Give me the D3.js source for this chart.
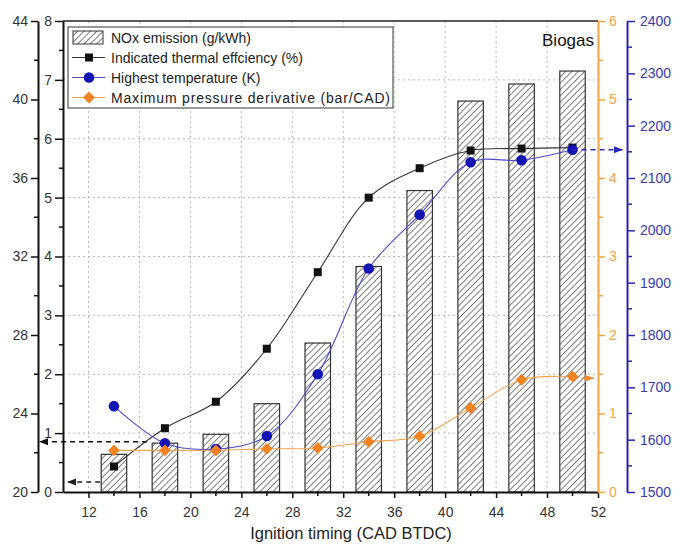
<!DOCTYPE html>
<html>
<head>
<meta charset="utf-8">
<script src="https://cdn.jsdelivr.net/npm/d3@7"></script>
<style>
    body { margin: 0; background: #fff; }
    svg { font-family: "Liberation Sans", Arial, sans-serif; }
</style>
</head>
<body>
<div id="chart"></div>
<script>
// ignition timing (CAD BTDC)
const timing = [14, 18, 22, 26, 30, 34, 38, 42, 46, 50];
// NOx emission (g/kWh) - bars, inner left axis
const nox = [0.64, 0.83, 0.98, 1.5, 2.53, 3.83, 5.12, 6.64, 6.93, 7.15];
// indicated thermal efficiency (%) - outer left axis
const efficiency = [21.3, 23.25, 24.6, 27.3, 31.2, 35.0, 36.5, 37.4, 37.5, 37.55];
// highest temperature (K) - blue right axis
const temperature = [1664, 1593, 1582, 1607, 1725, 1927, 2030, 2130, 2134, 2154];
// maximum pressure derivative (bar/CAD) - orange right axis
const pressure = [0.53, 0.53, 0.53, 0.55, 0.56, 0.64, 0.71, 1.07, 1.43, 1.47];

const xTicks = [12, 16, 20, 24, 28, 32, 36, 40, 44, 48, 52];
const effTicks = [20, 24, 28, 32, 36, 40, 44];
const noxTicks = [0, 1, 2, 3, 4, 5, 6, 7, 8];
const pressTicks = [0, 1, 2, 3, 4, 5, 6];
const tempTicks = [1500, 1600, 1700, 1800, 1900, 2000, 2100, 2200, 2300, 2400];

const legendItems = [
    "NOx emission (g/kWh)",
    "Indicated thermal effciency (%)",
    "Highest temperature (K)",
    "Maximum pressure derivative (bar/CAD)"
];

const W = 700, H = 544;
const plotL = 63, plotR = 598, plotT = 21, plotB = 492;
const outerX = 38, blueX = 627;
const fmt = d3.format("d");

const svg = d3.select("#chart").append("svg")
    .attr("width", W)
    .attr("height", H);

svg.append("rect").attr("width", W).attr("height", H).attr("fill", "#fff");

// hatch pattern for bars
const defs = svg.append("defs");
const pat = defs.append("pattern")
    .attr("id", "hatch")
    .attr("patternUnits", "userSpaceOnUse")
    .attr("width", 4.5).attr("height", 4.5)
    .attr("patternTransform", "rotate(45)");
pat.append("rect").attr("width", 4.5).attr("height", 4.5).attr("fill", "#fff");
pat.append("line")
    .attr("x1", 0).attr("y1", 0).attr("x2", 0).attr("y2", 4.5)
    .attr("stroke", "#3a3a3a").attr("stroke-width", 1.3);

// scales
const x = d3.scaleLinear().domain([10, 52]).range([plotL, plotR]);
const yNox = d3.scaleLinear().domain([0, 8]).range([plotB, plotT]);
const yEff = d3.scaleLinear().domain([20, 44]).range([plotB, plotT]);
const yPress = d3.scaleLinear().domain([0, 6]).range([plotB, plotT]);
const yTemp = d3.scaleLinear().domain([1500, 2400]).range([plotB, plotT]);

// grid lines
const grid = svg.append("g").attr("stroke", "#b5b5b5").attr("stroke-dasharray", "2,3");
grid.selectAll(".gx")
    .data(xTicks.slice(0, -1))
    .enter().append("line")
    .attr("x1", d => x(d)).attr("x2", d => x(d))
    .attr("y1", plotT).attr("y2", plotB);
grid.selectAll(".gy")
    .data(noxTicks.slice(1, -1))
    .enter().append("line")
    .attr("x1", plotL).attr("x2", plotR)
    .attr("y1", d => yNox(d)).attr("y2", d => yNox(d));

// bars
const barW = x(2) - x(0);
svg.selectAll(".bar")
    .data(timing)
    .enter().append("rect")
    .attr("class", "bar")
    .attr("x", d => x(d) - barW / 2)
    .attr("y", (d, i) => yNox(nox[i]))
    .attr("width", barW)
    .attr("height", (d, i) => plotB - yNox(nox[i]))
    .attr("fill", "url(#hatch)")
    .attr("stroke", "#333")
    .attr("stroke-width", 1.2);

// lines
function drawLine(values, yScale, color) {
    const line = d3.line()
        .x((d, i) => x(timing[i]))
        .y(d => yScale(d))
        .curve(d3.curveCatmullRom.alpha(0.5));
    svg.append("path")
        .datum(values)
        .attr("fill", "none")
        .attr("stroke", color)
        .attr("stroke-width", 1.1)
        .attr("d", line);
}
drawLine(efficiency, yEff, "#333");
drawLine(temperature, yTemp, "#4a4ac8");
drawLine(pressure, yPress, "#f3a24c");

// markers
svg.selectAll(".sq")
    .data(efficiency)
    .enter().append("rect")
    .attr("x", (d, i) => x(timing[i]) - 4)
    .attr("y", d => yEff(d) - 4)
    .attr("width", 8).attr("height", 8)
    .attr("fill", "#111");
svg.selectAll(".ci")
    .data(temperature)
    .enter().append("circle")
    .attr("cx", (d, i) => x(timing[i]))
    .attr("cy", d => yTemp(d))
    .attr("r", 5.3)
    .attr("fill", "#1414b4");
const diamond = d3.symbol().type(d3.symbolDiamond2).size(90);
svg.selectAll(".di")
    .data(pressure)
    .enter().append("path")
    .attr("transform", (d, i) => `translate(${x(timing[i])},${yPress(d)})`)
    .attr("d", diamond)
    .attr("fill", "#f5831f");

// dashed arrows pointing to the axes
function arrow(x1, x2, y, color) {
    svg.append("line")
        .attr("x1", x1).attr("x2", x2)
        .attr("y1", y).attr("y2", y)
        .attr("stroke", color)
        .attr("stroke-width", 1.6)
        .attr("stroke-dasharray", "5,4");
    const dir = x2 > x1 ? 1 : -1;
    svg.append("path")
        .attr("d", `M${x2},${y} L${x2 - dir * 9},${y - 3.5} L${x2 - dir * 9},${y + 3.5} Z`)
        .attr("fill", color);
}
arrow(x(16.6), outerX + 1, yEff(22.56), "#111");
arrow(x(13) - 1, plotL + 4, yNox(0.17), "#222");
arrow(x(50), blueX - 4, yTemp(temperature[9]), "#2a2ac0");
arrow(x(50), plotR - 4, yPress(1.45), "#f08a2a");

// axes
function styleAxis(g, color, width) {
    g.select(".domain").attr("stroke", color).attr("stroke-width", width);
    g.selectAll(".tick line").attr("stroke", color).attr("stroke-width", 1.5);
    g.selectAll(".tick text").attr("fill", color === "#111" ? "#333" : color)
        .attr("font-size", 14)
        .attr("font-family", "Liberation Sans, Arial, sans-serif");
}

// top border
svg.append("line")
    .attr("x1", plotL).attr("x2", plotR)
    .attr("y1", plotT).attr("y2", plotT)
    .attr("stroke", "#222").attr("stroke-width", 1.5);

const gx = svg.append("g")
    .attr("transform", `translate(0,${plotB})`)
    .call(d3.axisBottom(x).tickValues(xTicks).tickFormat(fmt).tickSize(6).tickSizeOuter(0).tickPadding(9));
styleAxis(gx, "#111", 2);
gx.selectAll(".mt").data(xTicks.slice(0, -1).map(d => d + 2)).enter().append("line")
    .attr("x1", d => x(d)).attr("x2", d => x(d)).attr("y1", 0).attr("y2", 4)
    .attr("stroke", "#111").attr("stroke-width", 1.5);

const gNox = svg.append("g")
    .attr("transform", `translate(${plotL},0)`)
    .call(d3.axisLeft(yNox).tickValues(noxTicks).tickFormat(fmt).tickSize(8).tickSizeOuter(0).tickPadding(3));
styleAxis(gNox, "#111", 2);
gNox.selectAll(".mt").data(noxTicks.slice(0, -1).map(d => d + 0.5)).enter().append("line")
    .attr("x1", 0).attr("x2", -4).attr("y1", d => yNox(d)).attr("y2", d => yNox(d))
    .attr("stroke", "#111").attr("stroke-width", 1.5);

const gEff = svg.append("g")
    .attr("transform", `translate(${outerX},0)`)
    .call(d3.axisLeft(yEff).tickValues(effTicks).tickFormat(fmt).tickSize(7).tickSizeOuter(0).tickPadding(3));
styleAxis(gEff, "#111", 2);
gEff.selectAll(".mt").data(effTicks.slice(0, -1).map(d => d + 2)).enter().append("line")
    .attr("x1", 0).attr("x2", -4).attr("y1", d => yEff(d)).attr("y2", d => yEff(d))
    .attr("stroke", "#111").attr("stroke-width", 1.5);

const gPress = svg.append("g")
    .attr("transform", `translate(${plotR},0)`)
    .call(d3.axisRight(yPress).tickValues(pressTicks).tickFormat(fmt).tickSize(7).tickSizeOuter(0).tickPadding(4));
styleAxis(gPress, "#f2a343", 2);
gPress.selectAll(".mt").data(pressTicks.slice(0, -1).map(d => d + 0.5)).enter().append("line")
    .attr("x1", 0).attr("x2", 5).attr("y1", d => yPress(d)).attr("y2", d => yPress(d))
    .attr("stroke", "#f2a343").attr("stroke-width", 1.5);

const gTemp = svg.append("g")
    .attr("transform", `translate(${blueX},0)`)
    .call(d3.axisRight(yTemp).tickValues(tempTicks).tickFormat(fmt).tickSize(8).tickSizeOuter(0).tickPadding(5));
styleAxis(gTemp, "#2626ac", 2);
gTemp.selectAll(".tick text").attr("fill", "#3b3ba6");
gTemp.selectAll(".mt").data(tempTicks.slice(0, -1).map(d => d + 50)).enter().append("line")
    .attr("x1", 0).attr("x2", 5).attr("y1", d => yTemp(d)).attr("y2", d => yTemp(d))
    .attr("stroke", "#2626ac").attr("stroke-width", 1.5);

// axis title
svg.append("text")
    .attr("x", 351)
    .attr("y", 539)
    .attr("text-anchor", "middle")
    .attr("font-size", 16.5)
    .attr("fill", "#222")
    .text("Ignition timing (CAD BTDC)");

// Biogas label
svg.append("text")
    .attr("x", 594)
    .attr("y", 46)
    .attr("text-anchor", "end")
    .attr("font-size", 17)
    .attr("fill", "#111")
    .text("Biogas");

// legend
const lg = svg.append("g");
lg.append("rect")
    .attr("x", 68).attr("y", 27)
    .attr("width", 325).attr("height", 81)
    .attr("fill", "#fff")
    .attr("stroke", "#555")
    .attr("stroke-width", 1.2);
const rowY = [37.5, 57.5, 77.5, 97.5];
lg.append("rect")
    .attr("x", 73).attr("y", rowY[0] - 6.5)
    .attr("width", 30).attr("height", 13)
    .attr("fill", "url(#hatch)")
    .attr("stroke", "#333");
const legColors = [null, ["#333", "#111"], ["#4a4ac8", "#1414b4"], ["#f3a24c", "#f5831f"]];
[1, 2, 3].forEach(i => {
    lg.append("line")
        .attr("x1", 72).attr("x2", 105)
        .attr("y1", rowY[i]).attr("y2", rowY[i])
        .attr("stroke", legColors[i][0]).attr("stroke-width", 1.2);
});
lg.append("rect").attr("x", 85).attr("y", rowY[1] - 4).attr("width", 8).attr("height", 8).attr("fill", "#111");
lg.append("circle").attr("cx", 89).attr("cy", rowY[2]).attr("r", 5.3).attr("fill", "#1414b4");
lg.append("path").attr("transform", `translate(89,${rowY[3]})`).attr("d", diamond).attr("fill", "#f5831f");
lg.selectAll(".lt")
    .data(legendItems)
    .enter().append("text")
    .attr("x", 111)
    .attr("y", (d, i) => rowY[i] + 5)
    .attr("font-size", 14)
    .attr("fill", "#222")
    .attr("textLength", (d, i) => i === 3 ? 279 : null)
    .text(d => d);
</script>
</body>
</html>
